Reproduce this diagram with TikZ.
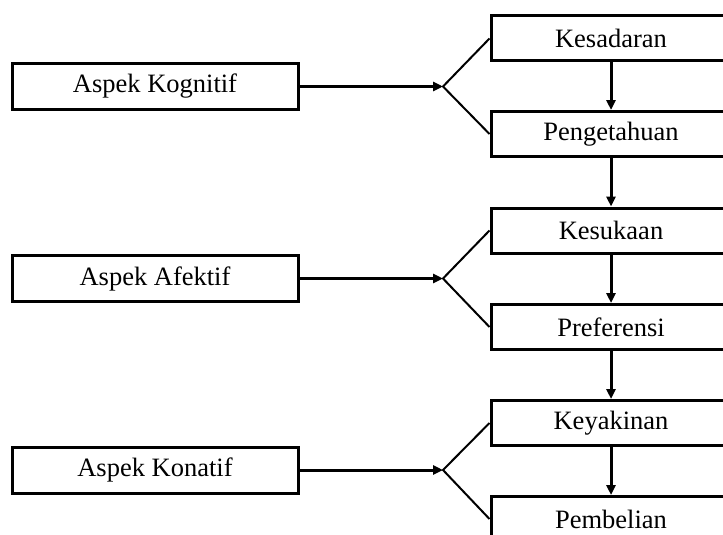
\documentclass[tikz,border=0pt]{standalone}
\usepackage{fontspec}
\setmainfont{Liberation Serif}
\usetikzlibrary{arrows.meta}

\tikzset{
  aspect/.style={draw, line width=3pt, minimum width=286pt, minimum height=46pt,
    inner sep=0pt, font=\fontsize{26.5}{30}\selectfont},
  stage/.style={draw, line width=3pt, minimum width=240pt, minimum height=45pt,
    inner sep=0pt, font=\fontsize{26.5}{30}\selectfont},
  feed/.style={line width=3pt, -{Triangle[length=10pt,width=9pt]}},
  flow/.style={line width=3pt, -{Triangle[length=10pt,width=9pt]}},
  fork/.style={line width=2pt}
}

\begin{document}
\begin{tikzpicture}[x=1pt,y=-1pt]
  \useasboundingbox (0,0) rectangle (723,535);
  \clip (0,0) rectangle (723,535);

  % aspects on the left
  \node[aspect] (kog) at (155,86.5)  {Aspek Kognitif};
  \node[aspect] (afe) at (155,278.5) {Aspek Afektif};
  \node[aspect] (kon) at (155,470)   {Aspek Konatif};

  % stages on the right
  \node[stage] (s1) at (611,38.5) {Kesadaran};
  \node[stage] (s2) at (611,134)  {Pengetahuan};
  \node[stage] (s3) at (611,230.5){Kesukaan};
  \node[stage] (s4) at (611,327)  {Preferensi};
  \node[stage] (s5) at (611,423)  {Keyakinan};
  \node[stage] (s6) at (611,519)  {Pembelian};

  % branching points, level with the aspect boxes
  \coordinate (f1) at (kog.east -| 443,0);
  \coordinate (f2) at (afe.east -| 443,0);
  \coordinate (f3) at (kon.east -| 443,0);

  % aspect arrows into the forks
  \draw[feed] (kog.east) -- (f1);
  \draw[feed] (afe.east) -- (f2);
  \draw[feed] (kon.east) -- (f3);

  % forks to the paired stages
  \draw[fork] (s1.west) -- (f1) -- (s2.west);
  \draw[fork] (s3.west) -- (f2) -- (s4.west);
  \draw[fork] (s5.west) -- (f3) -- (s6.west);

  % sequence of stages
  \draw[flow] (s1.south) -- (s2.north);
  \draw[flow] (s2.south) -- (s3.north);
  \draw[flow] (s3.south) -- (s4.north);
  \draw[flow] (s4.south) -- (s5.north);
  \draw[flow] (s5.south) -- (s6.north);
\end{tikzpicture}
\end{document}
